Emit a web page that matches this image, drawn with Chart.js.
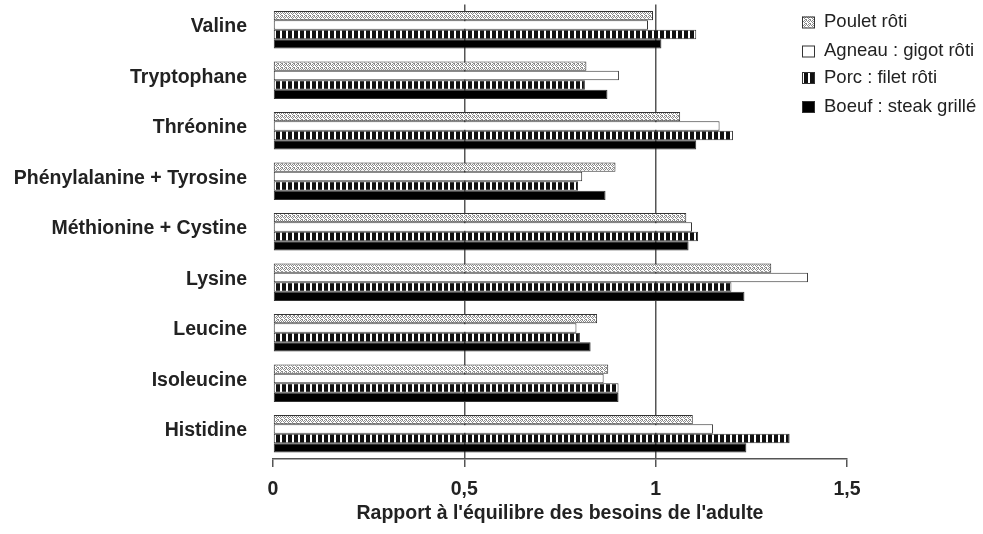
<!DOCTYPE html>
<html>
<head>
<meta charset="utf-8">
<script src="https://cdn.jsdelivr.net/npm/chart.js@4/dist/chart.umd.min.js"></script>
<style>
  html, body { margin: 0; padding: 0; background: #fff; }
</style>
</head>
<body>
<canvas id="chart" width="983" height="534"></canvas>
<script>
const categories = ["Valine", "Tryptophane", "Thréonine", "Phénylalanine + Tyrosine",
  "Méthionine + Cystine", "Lysine", "Leucine", "Isoleucine", "Histidine"];

const poulet = [0.993, 0.819, 1.064, 0.895, 1.080, 1.302, 0.847, 0.876, 1.097];
const agneau = [0.980, 0.904, 1.167, 0.808, 1.095, 1.398, 0.793, 0.864, 1.150];
const porc   = [1.106, 0.815, 1.202, 0.797, 1.111, 1.198, 0.802, 0.903, 1.350];
const boeuf  = [1.015, 0.874, 1.106, 0.869, 1.086, 1.232, 0.830, 0.903, 1.237];

const xTicks = [0, 0.5, 1, 1.5];

const FONT = "'Liberation Sans', Arial, sans-serif";

// small canvas tiles for the hatch fills
function makePattern(w, h, draw) {
  const c = document.createElement("canvas");
  c.width = w;
  c.height = h;
  const g = c.getContext("2d");
  draw(g);
  return g.createPattern(c, "repeat");
}

const dotted = makePattern(4, 4, g => {
  g.fillStyle = "#fff";
  g.fillRect(0, 0, 4, 4);
  g.fillStyle = "#8a8a8a";
  g.fillRect(0, 0, 1, 1);
  g.fillRect(2, 0, 1, 1);
  g.fillRect(1, 1, 1, 1);
  g.fillRect(3, 1, 1, 1);
  g.fillRect(0, 2, 1, 1);
  g.fillRect(2, 3, 1, 1);
  g.fillRect(1, 3, 1, 1);
});

const striped = makePattern(6, 6, g => {
  g.fillStyle = "#fff";
  g.fillRect(0, 0, 6, 6);
  g.fillStyle = "#111";
  g.fillRect(0, 0, 4, 6);
});

const bar = (label, data, fill) => ({
  label: label,
  data: data,
  backgroundColor: fill,
  borderColor: "#333",
  borderWidth: 1,
  borderSkipped: false,
  categoryPercentage: 0.743,
  barPercentage: 1
});

const sideLegend = {
  id: "sideLegend",
  afterDraw(chart) {
    const ctx = chart.ctx;
    const ys = [22, 51, 77.5, 106.5];
    chart.data.datasets.forEach((ds, i) => {
      ctx.save();
      ctx.fillStyle = ds.backgroundColor;
      ctx.fillRect(802, ys[i] - 5.5, 12, 11);
      ctx.strokeStyle = "#333";
      ctx.lineWidth = 1;
      ctx.strokeRect(802.5, ys[i] - 5, 12, 11);
      ctx.fillStyle = "#222";
      ctx.font = "18.5px " + FONT;
      ctx.textBaseline = "middle";
      ctx.textAlign = "left";
      ctx.fillText(ds.label, 824, ys[i]);
      ctx.restore();
    });
  }
};

const config = {
  type: "bar",
  data: {
    labels: categories,
    datasets: [
      bar("Poulet rôti", poulet, dotted),
      bar("Agneau : gigot rôti", agneau, "#fff"),
      bar("Porc : filet rôti", porc, striped),
      bar("Boeuf : steak grillé", boeuf, "#000")
    ]
  },
  options: {
    indexAxis: "y",
    responsive: false,
    animation: false,
    devicePixelRatio: 1,
    layout: { padding: { top: 4.5, right: 136, bottom: 0, left: 0 } },
    plugins: {
      legend: { display: false },
      tooltip: { enabled: false }
    },
    scales: {
      x: {
        min: 0,
        max: 1.5,
        afterBuildTicks: s => { s.ticks = xTicks.map(v => ({ value: v })); },
        ticks: {
          padding: 11,
          color: "#222",
          font: { family: FONT, size: 19.5, weight: "bold" },
          callback: v => String(v).replace(".", ",")
        },
        grid: {
          color: c => (c.tick && (c.tick.value === 0 || c.tick.value === 1.5)) ? "rgba(0,0,0,0)" : "#555",
          tickColor: "#555",
          tickLength: 8,
          lineWidth: 1.5
        },
        border: { display: true, color: "#555", width: 1.5 },
        title: {
          display: true,
          text: "Rapport à l'équilibre des besoins de l'adulte",
          color: "#222",
          font: { family: FONT, size: 19.5, weight: "bold" },
          padding: { top: 0, bottom: 9 }
        },
        afterFit: s => { s.height = 75; }
      },
      y: {
        grid: { display: false, drawTicks: false },
        border: { display: false },
        ticks: {
          padding: 26,
          labelOffset: -3,
          color: "#222",
          font: { family: FONT, size: 19.5, weight: "bold" }
        },
        afterFit: s => {
          s.width = 273;
          s.paddingTop = 0;
          s.paddingBottom = 0;
        }
      }
    }
  },
  plugins: [sideLegend]
};

const canvas = document.getElementById("chart");
if (canvas) {
  new Chart(canvas.getContext("2d"), config);
} else {
  console.error("canvas not found");
}
</script>
</body>
</html>
